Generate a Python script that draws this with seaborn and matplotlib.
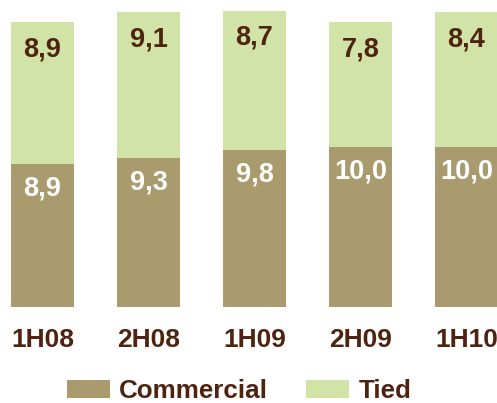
import matplotlib
matplotlib.use("Agg")
import matplotlib.pyplot as plt
import seaborn as sns
import pandas as pd
from matplotlib.patches import Patch

# Half-year periods and segment values (stacked: commercial at the bottom, tied on top)
periods = ["1H08", "2H08", "1H09", "2H09", "1H10"]
commercial = [8.9, 9.3, 9.8, 10.0, 10.0]
tied = [8.9, 9.1, 8.7, 7.8, 8.4]

COMMERCIAL_COLOR = "#A99B6D"
TIED_COLOR = "#D1E3A7"
TEXT_COLOR = "#4E2411"

sns.set_theme(style="white")
plt.rcParams["font.family"] = ["Liberation Sans", "DejaVu Sans"]
plt.rcParams["font.weight"] = "bold"

df = pd.DataFrame({
    "period": periods,
    "commercial": commercial,
    "tied": tied,
})
df["total"] = df["commercial"] + df["tied"]

fig = plt.figure(figsize=(4.97, 4.03), dpi=100)
ax = fig.add_axes([0.0, 96 / 403, 1.0, 307 / 403])

# Full stack first, then the commercial part drawn over its lower portion
sns.barplot(data=df, x="period", y="total", color=TIED_COLOR, width=0.594,
            saturation=1, linewidth=0, ax=ax, order=periods)
sns.barplot(data=df, x="period", y="commercial", color=COMMERCIAL_COLOR,
            width=0.594, saturation=1, linewidth=0, ax=ax, order=periods)

ax.set_xlim(-0.401, 4.288)
ax.set_ylim(0, 19.17)

def fmt(v):
    return f"{v:.1f}".replace(".", ",")

for i, row in df.iterrows():
    ax.annotate(fmt(row["tied"]), xy=(i, row["total"]), xytext=(0, -19.5),
                textcoords="offset points", ha="center", va="center",
                fontsize=19.5, fontweight="bold", color=TEXT_COLOR)
    ax.annotate(fmt(row["commercial"]), xy=(i, row["commercial"]), xytext=(0, -17.5),
                textcoords="offset points", ha="center", va="center",
                fontsize=19.5, fontweight="bold", color="white")

ax.set_xlabel("")
ax.set_ylabel("")
ax.set_yticks([])
ax.tick_params(axis="x", length=0, pad=15, labelsize=19, labelcolor=TEXT_COLOR)
for lbl in ax.get_xticklabels():
    lbl.set_fontweight("bold")
sns.despine(ax=ax, left=True, bottom=True)

handles = [Patch(facecolor=COMMERCIAL_COLOR, edgecolor="none", label="Commercial"),
           Patch(facecolor=TIED_COLOR, edgecolor="none", label="Tied")]
leg = fig.legend(handles=handles, loc="center", bbox_to_anchor=(239 / 497, 1 - 391 / 403),
                 ncol=2, frameon=False, fontsize=18.7, handlelength=1.66,
                 handleheight=0.74, handletextpad=0.36, columnspacing=1.45,
                 borderpad=0, borderaxespad=0)
for t in leg.get_texts():
    t.set_color(TEXT_COLOR)
    t.set_fontweight("bold")

fig.savefig("out.png", dpi=100)
